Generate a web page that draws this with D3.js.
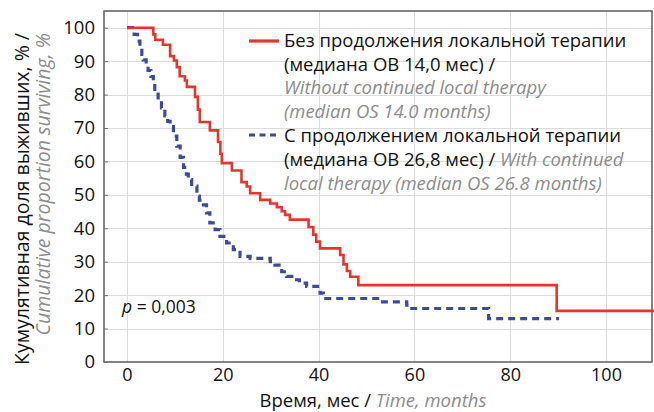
<!DOCTYPE html>
<html>
<head>
<meta charset="utf-8">
<script src="https://cdn.jsdelivr.net/npm/d3@7"></script>
<style>
  html, body { margin: 0; padding: 0; background: #fff; }
  svg { display: block; }
  text { font-family: "Open Sans", "Noto Sans", sans-serif; }
</style>
</head>
<body>
<svg id="chart" width="654" height="412"></svg>
<script>
// Kaplan–Meier survival estimates (months, % surviving after each event)
const withoutTimes = [0, 5.5, 5.9, 7.5, 9.0, 9.8, 10.4, 11.0, 12.1, 12.5, 14.2, 14.8, 15.2, 17.3, 19.0, 19.5, 19.8, 21.9, 23.9, 25.0, 25.7, 27.8, 29.9, 31.3, 32.3, 33.0, 34.0, 37.9, 38.9, 39.5, 40.3, 44.5, 45.2, 45.9, 46.6, 48.3, 89.7];
const withoutSurv  = [100, 98, 96.4, 94.9, 91.5, 90.2, 88.2, 85.5, 84.2, 82.3, 79.3, 75.5, 71.8, 69.3, 65.8, 62.3, 59.5, 57.3, 53.8, 52.5, 50.5, 48.5, 47.4, 46.3, 45.1, 44.0, 42.6, 40.4, 38.1, 36.0, 34.0, 32.0, 29.2, 27.2, 25.5, 23.0, 15.3];
const withoutEnd   = 110;

const withTimes = [0, 1.5, 2.2, 2.7, 3.1, 3.4, 4.0, 4.4, 5.0, 5.5, 5.8, 6.5, 7.2, 7.9, 8.5, 9.0, 9.7, 10.4, 11.1, 11.8, 12.4, 12.8, 13.5, 14.6, 15.1, 15.6, 16.6, 17.3, 18.4, 19.4, 20.8, 22.2, 23.6, 25.7, 29.9, 30.9, 32.3, 33.3, 34.4, 36.0, 37.5, 40.3, 41.0, 52.8, 58.4, 59.1, 75.5];
const withSurv  = [100, 98, 96, 94, 92, 90.4, 88.6, 87.2, 85.4, 83.2, 80.6, 78.2, 76, 73.6, 72, 70.4, 67.6, 64.6, 61.2, 58.2, 56.2, 54.6, 52.6, 49.6, 48.4, 47, 44.6, 41.6, 39.6, 37.6, 35.6, 33.6, 31.6, 31.0, 30.0, 29.0, 27.0, 25.6, 24.6, 23.6, 22.6, 20.6, 19.0, 18.0, 17.0, 16.0, 13.0];
const withEnd   = 90.2;

const yTicks = [0, 10, 20, 30, 40, 50, 60, 70, 80, 90, 100];
const xTicks = [0, 20, 40, 60, 80, 100];

const svg = d3.select("#chart");
const GRAY = "#8c8c8c";

const x = d3.scaleLinear().domain([-4.8, 109.6]).range([104, 652]);
const y = d3.scaleLinear().domain([0, 105]).range([362, 11]);

// grid
const grid = svg.append("g").attr("stroke", "#dcdcdc").attr("stroke-width", 1);
grid.selectAll("line.h").data(yTicks.filter(d => d > 0)).join("line")
  .attr("x1", x.range()[0]).attr("x2", x.range()[1])
  .attr("y1", d => Math.round(y(d)) + 0.5).attr("y2", d => Math.round(y(d)) + 0.5);
grid.selectAll("line.v").data(xTicks).join("line")
  .attr("y1", y.range()[0]).attr("y2", y.range()[1])
  .attr("x1", d => Math.round(x(d)) + 0.5).attr("x2", d => Math.round(x(d)) + 0.5);

// axes
const yAxis = svg.append("g").attr("transform", `translate(${x.range()[0]},0)`)
  .call(d3.axisLeft(y).tickValues(yTicks).tickSize(-4).tickPadding(9));
const xAxis = svg.append("g").attr("transform", `translate(0,${y.range()[0]})`)
  .call(d3.axisBottom(x).tickValues(xTicks).tickSize(0).tickPadding(6.5));
[yAxis, xAxis].forEach(a => {
  a.select(".domain").remove();
  a.selectAll("line").attr("stroke", "#777");
  a.selectAll("text").attr("fill", "#111")
    .attr("font-family", "'Open Sans', sans-serif");
});
yAxis.selectAll("text").attr("font-size", 18.5);
xAxis.selectAll("text").attr("font-size", 18);

// frame
svg.append("rect")
  .attr("x", x.range()[0]).attr("y", y.range()[1])
  .attr("width", x.range()[1] - x.range()[0])
  .attr("height", y.range()[0] - y.range()[1])
  .attr("fill", "none").attr("stroke", "#666").attr("stroke-width", 1.6);

// survival curves
const step = d3.line().curve(d3.curveStepAfter).x(d => x(d[0])).y(d => y(d[1]));
const withoutPts = withoutTimes.map((t, i) => [t, withoutSurv[i]]).concat([[withoutEnd, withoutSurv[withoutSurv.length - 1]]]);
const withPts = withTimes.map((t, i) => [t, withSurv[i]]).concat([[withEnd, withSurv[withSurv.length - 1]]]);

svg.append("path").datum(withPts).attr("d", step)
  .attr("fill", "none").attr("stroke", "#3b4a9c").attr("stroke-width", 3.2)
  .attr("stroke-dasharray", "7,5");
svg.append("path").datum(withoutPts).attr("d", step)
  .attr("fill", "none").attr("stroke", "#e8342c").attr("stroke-width", 2.6);

// legend
const lg = svg.append("g").attr("font-size", 18.5);
lg.append("line").attr("x1", 249).attr("x2", 279).attr("y1", 41).attr("y2", 41)
  .attr("stroke", "#e8342c").attr("stroke-width", 3.2);
lg.append("line").attr("x1", 249).attr("x2", 279).attr("y1", 135).attr("y2", 135)
  .attr("stroke", "#3b4a9c").attr("stroke-width", 3.2).attr("stroke-dasharray", "6,4.5");

const legendLines = [
  [{ t: "Без продолжения локальной терапии" }],
  [{ t: "(медиана ОВ 14,0 мес) /" }],
  [{ t: "Without continued local therapy", it: true }],
  [{ t: "(median OS 14.0 months)", it: true }],
  [{ t: "С продолжением локальной терапии" }],
  [{ t: "(медиана ОВ 26,8 мес) / " }, { t: "With continued", it: true }],
  [{ t: "local therapy (median OS 26.8 months)", it: true }]
];
const lineY = [47, 71, 94, 118, 142, 166, 190];
legendLines.forEach((parts, i) => {
  const tx = lg.append("text").attr("x", 284).attr("y", lineY[i]);
  parts.forEach(p => {
    tx.append("tspan").text(p.t)
      .attr("fill", p.it ? GRAY : "#111")
      .attr("font-style", p.it ? "italic" : "normal");
  });
});

// p-value
const pv = svg.append("text").attr("x", 122).attr("y", 313).attr("font-size", 17.5).attr("fill", "#111");
pv.append("tspan").attr("font-style", "italic").text("p");
pv.append("tspan").text(" = 0,003");

// axis titles
const xt = svg.append("text").attr("x", 373).attr("y", 406.5).attr("text-anchor", "middle").attr("font-size", 18.5);
xt.append("tspan").attr("fill", "#111").text("Время, мес / ");
xt.append("tspan").attr("fill", GRAY).attr("font-style", "italic").text("Time, months");

svg.append("text").attr("transform", "translate(29,33) rotate(-90)")
  .attr("text-anchor", "end").attr("font-size", 19.5).attr("fill", "#111")
  .text("Кумулятивная доля выживших, % /");
svg.append("text").attr("transform", "translate(50,33) rotate(-90)")
  .attr("text-anchor", "end").attr("font-size", 19.5).attr("fill", GRAY).attr("font-style", "italic")
  .text("Cumulative proportion surviving, %");
</script>
</body>
</html>
